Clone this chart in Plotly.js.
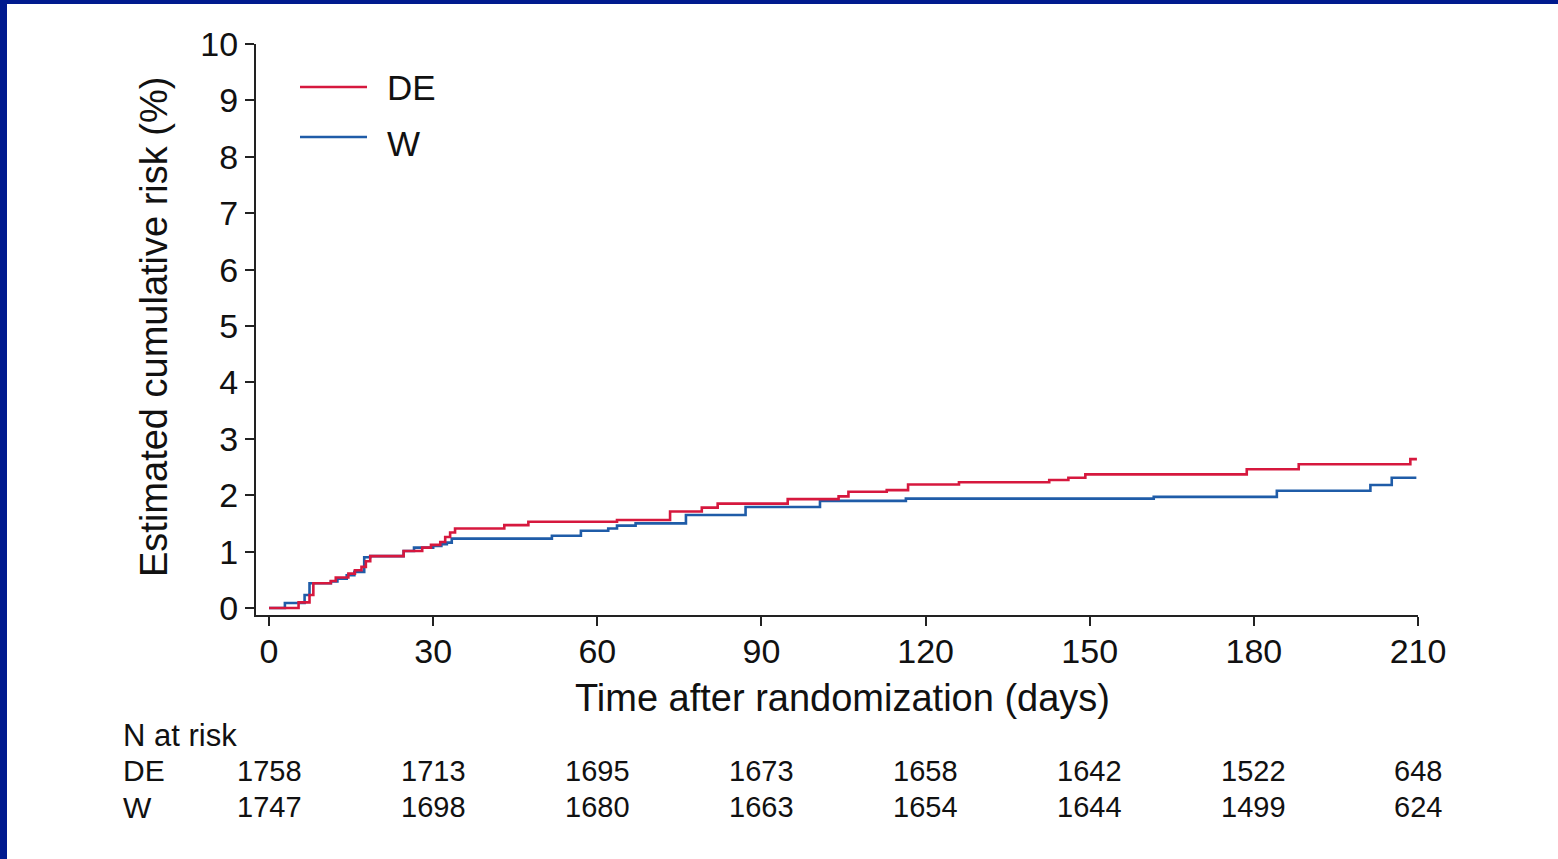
<!DOCTYPE html>
<html>
<head>
<meta charset="utf-8">
<script src="https://cdn.plot.ly/plotly-3.0.1.min.js"></script>
<style>
  html, body { margin: 0; padding: 0; background: #ffffff; width: 1558px; height: 859px; overflow: hidden; }
  #chart { position: absolute; left: 0; top: 0; width: 1558px; height: 859px; }
  #bt { position: absolute; left: 0; top: 0; width: 1558px; height: 4px; background: #001a8e; }
  #bl { position: absolute; left: 0; top: 0; width: 7px; height: 859px; background: #001a8e; }
</style>
</head>
<body>
<div id="chart"></div>
<div id="bt"></div>
<div id="bl"></div>
<script>
// ---- data ----
const deDays = [0, 5.4, 7.4, 8.1, 11.3, 12.2, 14.5, 15.7, 16.9, 17.7, 18.5, 24.6, 28.0, 29.6, 31.3, 32.2, 33.1, 34.0, 43.0, 47.4, 63.6, 73.3, 79.1, 82.0, 94.8, 104.1, 105.9, 112.9, 116.8, 126.1, 142.6, 146.1, 149.2, 178.7, 188.2, 208.6, 209.8];
const deRisk = [0, 0.10, 0.23, 0.44, 0.48, 0.54, 0.61, 0.67, 0.73, 0.83, 0.92, 1.01, 1.07, 1.12, 1.17, 1.26, 1.34, 1.41, 1.47, 1.53, 1.56, 1.71, 1.78, 1.85, 1.93, 1.98, 2.06, 2.09, 2.19, 2.23, 2.27, 2.31, 2.37, 2.46, 2.55, 2.64, 2.64];

const wDays = [0, 2.9, 6.5, 7.4, 11.3, 12.5, 14.2, 15.6, 17.4, 18.5, 24.6, 26.5, 30.0, 31.5, 32.5, 33.4, 51.7, 57.0, 62.0, 63.6, 67.0, 76.2, 87.1, 100.7, 116.4, 161.7, 184.2, 201.3, 205.2, 209.7];
const wRisk = [0, 0.09, 0.23, 0.44, 0.47, 0.52, 0.58, 0.64, 0.90, 0.92, 1.01, 1.07, 1.10, 1.13, 1.16, 1.23, 1.28, 1.37, 1.41, 1.46, 1.50, 1.65, 1.79, 1.90, 1.94, 1.97, 2.08, 2.18, 2.31, 2.31];

const xTicks = [0, 30, 60, 90, 120, 150, 180, 210];
const yTicks = [0, 1, 2, 3, 4, 5, 6, 7, 8, 9, 10];
const seriesNames = ["DE", "W"];
const atRiskDE = [1758, 1713, 1695, 1673, 1658, 1642, 1522, 648];
const atRiskW = [1747, 1698, 1680, 1663, 1654, 1644, 1499, 624];

// ---- layout helpers ----
const W = 1558, H = 859;
const L = 256, R = 1418, T = 44, B = 615;
const px = v => (v - L) / (R - L);
const py = v => (B - v) / (B - T);
const FONT = "Liberation Sans, Arial, sans-serif";
const RED = "#d6183e", BLUE = "#1f5ca8", INK = "#111111";

const traces = [
  { x: deDays, y: deRisk, name: seriesNames[0], mode: "lines", line: { shape: "hv", color: RED, width: 2.6 }, hoverinfo: "skip" },
  { x: wDays, y: wRisk, name: seriesNames[1], mode: "lines", line: { shape: "hv", color: BLUE, width: 2.6 }, hoverinfo: "skip" }
];
// draw DE on top
traces.reverse();

const annotations = [];
annotations.push({ xref: "paper", yref: "paper", x: px(842), y: py(698), text: "Time after randomization (days)", showarrow: false, xanchor: "center", yanchor: "middle", font: { family: FONT, size: 38, color: INK } });
annotations.push({ xref: "paper", yref: "paper", x: px(154), y: py(327), text: "Estimated cumulative risk (%)", textangle: -90, showarrow: false, xanchor: "center", yanchor: "middle", font: { family: FONT, size: 38, color: INK } });
annotations.push({ xref: "paper", yref: "paper", x: px(121), y: py(735), text: "N at risk", showarrow: false, xanchor: "left", yanchor: "middle", font: { family: FONT, size: 31, color: INK } });
annotations.push({ xref: "paper", yref: "paper", x: px(121), y: py(771), text: seriesNames[0], showarrow: false, xanchor: "left", yanchor: "middle", font: { family: FONT, size: 30, color: INK } });
annotations.push({ xref: "paper", yref: "paper", x: px(121), y: py(807), text: seriesNames[1], showarrow: false, xanchor: "left", yanchor: "middle", font: { family: FONT, size: 30, color: INK } });
xTicks.forEach((d, i) => {
  annotations.push({ xref: "x", yref: "paper", x: d, y: py(771), text: String(atRiskDE[i]), showarrow: false, xanchor: "center", yanchor: "middle", font: { family: FONT, size: 29, color: INK } });
  annotations.push({ xref: "x", yref: "paper", x: d, y: py(807), text: String(atRiskW[i]), showarrow: false, xanchor: "center", yanchor: "middle", font: { family: FONT, size: 29, color: INK } });
});
// legend
annotations.push({ xref: "paper", yref: "paper", x: px(385), y: py(88), text: seriesNames[0], showarrow: false, xanchor: "left", yanchor: "middle", font: { family: FONT, size: 35, color: INK } });
annotations.push({ xref: "paper", yref: "paper", x: px(385), y: py(143), text: seriesNames[1], showarrow: false, xanchor: "left", yanchor: "middle", font: { family: FONT, size: 35, color: INK } });

const shapes = [
  { type: "line", xref: "paper", yref: "paper", x0: px(300), x1: px(367), y0: py(87), y1: py(87), line: { color: RED, width: 2.6 } },
  { type: "line", xref: "paper", yref: "paper", x0: px(300), x1: px(367), y0: py(137), y1: py(137), line: { color: BLUE, width: 2.6 } }
];

const layout = {
  width: W, height: H,
  margin: { l: L, r: W - R, t: T, b: H - B, pad: 0 },
  paper_bgcolor: "#ffffff", plot_bgcolor: "#ffffff",
  showlegend: false,
  font: { family: FONT, color: INK },
  xaxis: {
    range: [-2.38, 210], tickvals: xTicks, ticktext: xTicks.map(String),
    showgrid: false, zeroline: false, showline: true, linecolor: "#222", linewidth: 2,
    ticks: "outside", ticklen: 9, tickwidth: 2, tickcolor: "#222", ticklabelstandoff: -4,
    tickfont: { family: FONT, size: 34, color: INK }, fixedrange: true
  },
  yaxis: {
    range: [-0.124, 10], tickvals: yTicks, ticktext: yTicks.map(String),
    showgrid: false, zeroline: false, showline: true, linecolor: "#222", linewidth: 2,
    ticks: "outside", ticklen: 9, tickwidth: 2, tickcolor: "#222",
    tickfont: { family: FONT, size: 34, color: INK }, fixedrange: true
  },
  annotations: annotations,
  shapes: shapes
};

Plotly.newPlot("chart", traces, layout, { staticPlot: true, displayModeBar: false });
</script>
</body>
</html>
